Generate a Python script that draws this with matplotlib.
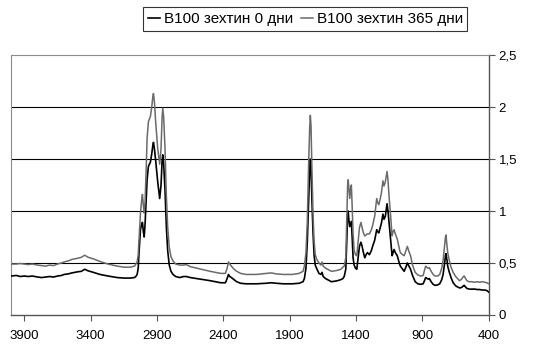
import matplotlib
matplotlib.use('Agg')
import matplotlib.pyplot as plt
from matplotlib.ticker import FuncFormatter

# wavenumber (cm-1) and absorbance
wavenumber = [4000, 3960, 3930, 3900, 3870, 3840, 3800, 3770, 3740, 3710,
              3680, 3650, 3620, 3600, 3570, 3540, 3500, 3470, 3445, 3420,
              3380, 3330, 3270, 3200, 3150, 3100, 3070, 3060, 3050, 3042,
              3035, 3025, 3015, 3010, 3003, 2997, 2990, 2982, 2975, 2965,
              2950, 2940, 2932, 2927, 2920, 2910, 2895, 2880, 2870, 2862,
              2857, 2850, 2840, 2830, 2820, 2808, 2795, 2780, 2760, 2730,
              2700, 2680, 2650, 2600, 2500, 2420, 2385, 2372, 2362, 2352,
              2340, 2320, 2300, 2270, 2230, 2150, 2080, 2040, 2000, 1950,
              1880, 1830, 1800, 1790, 1778, 1768, 1758, 1750, 1745, 1740,
              1733, 1725, 1717, 1708, 1695, 1680, 1665, 1657, 1648, 1630,
              1600, 1586, 1560, 1540, 1515, 1500, 1490, 1478, 1470, 1464,
              1460, 1455, 1448, 1441, 1436, 1430, 1423, 1415, 1405, 1395,
              1385, 1375, 1364, 1355, 1345, 1335, 1325, 1315, 1300, 1285,
              1276, 1260, 1245, 1237, 1229, 1218, 1210, 1198, 1190, 1180,
              1167, 1160, 1152, 1140, 1129, 1122, 1114, 1105, 1090, 1075,
              1067, 1050, 1038, 1025, 1014, 1002, 990, 975, 955, 935,
              915, 895, 885, 876, 865, 855, 848, 835, 820, 805,
              785, 770, 755, 745, 735, 727, 723, 718, 710, 700,
              685, 669, 650, 635, 621, 605, 592, 586, 575, 565,
              550, 530, 510, 490, 470, 450, 430, 415, 400]

day0 = [.375, .38, .37, .375, .37, .375, .365, .36, .365, .37,
        .365, .375, .38, .39, .395, .405, .415, .42, .44, .425,
        .41, .39, .375, .36, .355, .355, .36, .37, .39, .45,
        .62, .82, .88, .89, .80, .75, .88, 1.10, 1.30, 1.43,
        1.47, 1.55, 1.63, 1.66, 1.60, 1.48, 1.28, 1.12, 1.25, 1.48,
        1.54, 1.45, 1.20, .85, .62, .48, .42, .39, .37, .36,
        .37, .37, .36, .35, .33, .31, .31, .35, .39, .37,
        .36, .34, .32, .305, .30, .30, .305, .31, .305, .30,
        .30, .305, .32, .35, .45, .70, 1.10, 1.40, 1.50, 1.42,
        1.10, .80, .58, .48, .44, .40, .39, .41, .37, .35,
        .33, .32, .325, .33, .34, .35, .37, .44, .72, .95,
        1.00, .92, .85, .88, .90, .75, .55, .48, .45, .44,
        .55, .66, .70, .66, .60, .55, .58, .60, .58, .62,
        .66, .72, .82, .80, .79, .84, .88, .97, .92, .95,
        1.07, 1.00, .89, .72, .57, .60, .63, .60, .57, .50,
        .47, .44, .42, .46, .50, .47, .44, .38, .32, .30,
        .295, .30, .33, .36, .35, .345, .35, .32, .295, .285,
        .29, .30, .34, .39, .48, .57, .59, .55, .47, .42,
        .36, .31, .28, .27, .26, .265, .28, .285, .27, .255,
        .25, .248, .25, .245, .245, .24, .24, .235, .22]

day365 = [.49, .49, .495, .49, .485, .49, .48, .475, .47, .48,
          .475, .49, .50, .51, .52, .535, .545, .555, .575, .555,
          .54, .515, .49, .47, .46, .46, .47, .49, .51, .58,
          .75, .98, 1.12, 1.16, 1.05, .98, 1.10, 1.40, 1.70, 1.86,
          1.91, 2.00, 2.10, 2.13, 2.05, 1.85, 1.60, 1.45, 1.60, 1.90,
          1.99, 1.90, 1.60, 1.15, .85, .65, .56, .52, .49, .48,
          .48, .485, .465, .45, .42, .40, .40, .45, .51, .49,
          .47, .44, .42, .40, .39, .39, .40, .405, .395, .39,
          .39, .40, .42, .47, .60, .90, 1.45, 1.80, 1.92, 1.82,
          1.40, .98, .72, .58, .53, .50, .48, .51, .47, .45,
          .43, .42, .425, .43, .44, .46, .47, .55, .95, 1.25,
          1.30, 1.22, 1.12, 1.22, 1.25, 1.05, .78, .62, .58, .57,
          .70, .84, .89, .84, .79, .76, .77, .78, .78, .82,
          .86, .95, 1.12, 1.08, 1.06, 1.12, 1.17, 1.29, 1.24, 1.28,
          1.38, 1.30, 1.14, .95, .76, .80, .82, .78, .73, .64,
          .60, .58, .57, .62, .66, .61, .57, .48, .41, .385,
          .375, .38, .43, .47, .455, .45, .455, .42, .39, .375,
          .375, .39, .45, .52, .65, .75, .77, .70, .60, .535,
          .46, .41, .37, .35, .33, .345, .37, .375, .35, .33,
          .32, .32, .315, .32, .315, .32, .315, .31, .30]

x_ticks = [3900, 3400, 2900, 2400, 1900, 1400, 900, 400]
y_ticks = [0, 0.5, 1, 1.5, 2, 2.5]

plt.rcParams['font.family'] = ['Liberation Sans', 'DejaVu Sans']

fig = plt.figure(figsize=(5.53, 3.46), dpi=100)
ax = fig.add_axes([0.02, 0.0896, 0.864, 0.7514])

for yv in y_ticks[1:-1]:
    ax.axhline(yv, color='black', lw=0.8, zorder=1)

line0, = ax.plot(wavenumber, day0, color='black', lw=1.2, label='B100 зехтин 0 дни', zorder=3)
line365, = ax.plot(wavenumber, day365, color='#6a6a6a', lw=1.1, label='B100 зехтин 365 дни', zorder=4)

ax.set_xlim(4000, 400)
ax.set_ylim(0, 2.5)
ax.set_xticks(x_ticks)
ax.set_yticks(y_ticks)
ax.yaxis.tick_right()
ax.yaxis.set_major_formatter(FuncFormatter(lambda v, p: ('%g' % v).replace('.', ',')))
ax.tick_params(axis='both', direction='out', length=4, width=0.8, color='#555555',
               labelsize=9.5, pad=3)
ax.tick_params(axis='x', pad=6.5)

for side in ['left', 'top']:
    ax.spines[side].set_color('#8c8c8c')
    ax.spines[side].set_linewidth(0.8)
for side in ['right', 'bottom']:
    ax.spines[side].set_color('#555555')
    ax.spines[side].set_linewidth(1.0)

leg = fig.legend(handles=[line0, line365], loc='center', bbox_to_anchor=(0.552, 0.945),
                 ncol=2, frameon=True, fancybox=False, fontsize=11, handlelength=0.8,
                 handletextpad=0.25, columnspacing=0.5, borderpad=0.3)
leg.get_frame().set_edgecolor('black')
leg.get_frame().set_linewidth(0.8)

fig.savefig('out.png', dpi=100)
